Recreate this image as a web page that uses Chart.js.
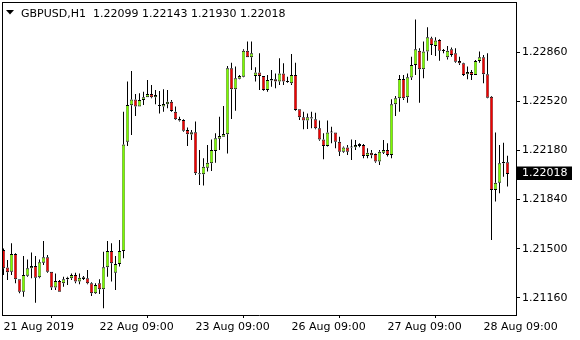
<!DOCTYPE html>
<html><head><meta charset="utf-8">
<script src="https://cdn.jsdelivr.net/npm/chart.js@4.4.0/dist/chart.umd.min.js"></script>
<style>html,body{margin:0;padding:0;background:#fff;}canvas{display:block}</style>
</head><body>
<canvas id="c" width="580" height="340"></canvas>
<script>
const symbolTitle = 'GBPUSD,H1';
const opens = [1.21491,1.21369,1.21341,1.21463,1.21288,1.21202,1.21313,1.21364,1.21380,1.21302,
1.21403,1.21440,1.21341,1.21232,1.21276,1.21260,1.21288,1.21295,1.21318,1.21272,
1.21290,1.21295,1.21260,1.21191,1.21260,1.21219,1.21371,1.21484,1.21334,1.21394,
1.21484,1.22241,1.22493,1.22534,1.22484,1.22530,1.22548,1.22571,1.22548,1.22488,
1.22484,1.22500,1.22518,1.22449,1.22398,1.22391,1.22322,1.22290,1.22306,1.22022,
1.22015,1.22061,1.22091,1.22177,1.22262,1.22276,1.22292,1.22749,1.22604,1.22677,
1.22691,1.22871,1.22825,1.22696,1.22721,1.22696,1.22599,1.22664,1.22673,1.22657,
1.22714,1.22657,1.22645,1.22703,1.22465,1.22410,1.22387,1.22410,1.22396,1.22334,
1.22257,1.22211,1.22304,1.22304,1.22241,1.22172,1.22200,1.22200,1.22202,1.22211,
1.22218,1.22142,1.22165,1.22156,1.22103,1.22165,1.22184,1.22149,1.22500,1.22541,
1.22675,1.22548,1.22685,1.22772,1.22871,1.22742,1.22865,1.22957,1.22904,1.22945,
1.22874,1.22825,1.22881,1.22853,1.22800,1.22784,1.22708,1.22724,1.22703,1.22800,
1.22825,1.22708,1.22553,1.21907,1.21957,1.22091,1.22099];
const highs = [1.21502,1.21422,1.21537,1.21468,1.21288,1.21449,1.21426,1.21473,1.21449,1.21426,
1.21553,1.21456,1.21341,1.21329,1.21283,1.21306,1.21306,1.21329,1.21334,1.21329,
1.21311,1.21352,1.21267,1.21260,1.21288,1.21479,1.21553,1.21537,1.21449,1.21560,
1.22449,1.22657,1.22731,1.22571,1.22576,1.22587,1.22668,1.22634,1.22599,1.22592,
1.22604,1.22599,1.22530,1.22484,1.22414,1.22396,1.22340,1.22322,1.22380,1.22184,
1.22126,1.22218,1.22257,1.22299,1.22414,1.22488,1.22765,1.22788,1.22761,1.22703,
1.22881,1.22934,1.22934,1.22756,1.22853,1.22696,1.22703,1.22738,1.22714,1.22818,
1.22784,1.22691,1.22848,1.22788,1.22465,1.22449,1.22437,1.22449,1.22442,1.22387,
1.22299,1.22387,1.22345,1.22304,1.22276,1.22207,1.22218,1.22257,1.22253,1.22230,
1.22225,1.22195,1.22184,1.22160,1.22184,1.22253,1.22230,1.22535,1.22558,1.22703,
1.22703,1.22714,1.22830,1.23088,1.22888,1.22934,1.23033,1.22968,1.22964,1.22950,
1.22883,1.22904,1.22894,1.22888,1.22830,1.22788,1.22761,1.22738,1.22807,1.22865,
1.22841,1.22853,1.22558,1.22304,1.22218,1.22234,1.22143];
const lows = [1.21318,1.21283,1.21318,1.21260,1.21191,1.21168,1.21306,1.21295,1.21126,1.21295,
1.21387,1.21334,1.21214,1.21214,1.21202,1.21237,1.21249,1.21283,1.21260,1.21253,
1.21283,1.21253,1.21172,1.21186,1.21186,1.21087,1.21306,1.21272,1.21214,1.21376,
1.21433,1.22211,1.22287,1.22419,1.22484,1.22495,1.22548,1.22541,1.22500,1.22437,
1.22449,1.22472,1.22449,1.22391,1.22380,1.22310,1.22211,1.22253,1.22010,1.21941,
1.21937,1.22034,1.22038,1.22096,1.22184,1.22276,1.22160,1.22398,1.22456,1.22673,
1.22687,1.22825,1.22738,1.22657,1.22599,1.22594,1.22587,1.22622,1.22611,1.22634,
1.22634,1.22650,1.22634,1.22456,1.22391,1.22327,1.22329,1.22334,1.22327,1.22248,
1.22119,1.22207,1.22230,1.22195,1.22142,1.22165,1.22149,1.22114,1.22184,1.22202,
1.22126,1.22126,1.22126,1.22096,1.22080,1.22156,1.22138,1.22126,1.22419,1.22449,
1.22530,1.22511,1.22668,1.22703,1.22511,1.22680,1.22802,1.22841,1.22834,1.22802,
1.22853,1.22811,1.22830,1.22788,1.22772,1.22696,1.22673,1.22668,1.22703,1.22788,
1.22645,1.22541,1.21560,1.21826,1.21884,1.21999,1.21930];
const closes = [1.21364,1.21336,1.21463,1.21288,1.21202,1.21318,1.21364,1.21380,1.21299,1.21406,
1.21440,1.21341,1.21232,1.21276,1.21202,1.21288,1.21299,1.21318,1.21272,1.21299,
1.21302,1.21260,1.21191,1.21249,1.21219,1.21371,1.21484,1.21399,1.21394,1.21484,
1.22222,1.22495,1.22534,1.22484,1.22530,1.22548,1.22571,1.22548,1.22564,1.22488,
1.22502,1.22518,1.22454,1.22396,1.22387,1.22317,1.22292,1.22306,1.22022,1.22015,
1.22068,1.22096,1.22184,1.22264,1.22281,1.22294,1.22749,1.22604,1.22680,1.22696,
1.22871,1.22825,1.22853,1.22721,1.22696,1.22599,1.22668,1.22675,1.22657,1.22714,
1.22657,1.22654,1.22703,1.22461,1.22410,1.22387,1.22410,1.22401,1.22334,1.22257,
1.22211,1.22304,1.22308,1.22241,1.22172,1.22200,1.22172,1.22204,1.22218,1.22225,
1.22142,1.22165,1.22147,1.22103,1.22172,1.22184,1.22149,1.22500,1.22541,1.22675,
1.22541,1.22687,1.22772,1.22881,1.22742,1.22865,1.22964,1.22911,1.22941,1.22871,
1.22869,1.22871,1.22841,1.22795,1.22784,1.22703,1.22724,1.22703,1.22800,1.22825,
1.22708,1.22546,1.21907,1.21957,1.22091,1.22100,1.22018];
const xTickIndex = [0, 24, 48, 72, 96, 120];
const xTickLabels = ['21 Aug 2019', '22 Aug 09:00', '23 Aug 09:00', '26 Aug 09:00', '27 Aug 09:00', '28 Aug 09:00'];
const yTickValues = [1.21160, 1.21500, 1.21840, 1.22180, 1.22520, 1.22860];

const UP = '#7CFC00', DOWN = '#F00000';
const FONT = 'DejaVu Sans';
const last = closes.length - 1;

const bodies = opens.map((o, i) => ({x: i, y: [o, closes[i]]}));
const upperWicks = highs.map((h, i) => ({x: i, y: [Math.max(opens[i], closes[i]), h]}));
const lowerWicks = lows.map((l, i) => ({x: i, y: [l, Math.min(opens[i], closes[i])]}));
const bodyColors = opens.map((o, i) => closes[i] >= o ? UP : DOWN);

const decor = {
  id: 'decor',
  afterDraw(chart) {
    const ctx = chart.ctx, a = chart.chartArea, ys = chart.scales.y;
    ctx.save();
    ctx.fillStyle = '#000';
    ctx.fillRect(a.left, a.top, 1, a.bottom - a.top);
    ctx.fillRect(a.left, a.top, a.right - a.left + 1, 1);
    ctx.beginPath();
    ctx.moveTo(6, 10); ctx.lineTo(14, 10); ctx.lineTo(10, 14.5); ctx.closePath(); ctx.fill();
    ctx.font = '11px "' + FONT + '"';
    ctx.textBaseline = 'alphabetic';
    ctx.textAlign = 'left';
    const vals = [opens[last], highs[last], lows[last], closes[last]].map(v => v.toFixed(5));
    ctx.fillText(symbolTitle + '  ' + vals.join(' '), 21, 17);
    const py = Math.round(ys.getPixelForValue(closes[last])) - 1;
    ctx.fillRect(517, py - 6.5, 55, 13.5);
    ctx.fillStyle = '#fff';
    ctx.textBaseline = 'middle';
    ctx.fillText(closes[last].toFixed(5), 522, py + 0.5);
    ctx.restore();
  }
};

const wickStyle = {backgroundColor: '#000', borderWidth: 0, barThickness: 1, grouped: false, inflateAmount: 0};

new Chart(document.getElementById('c'), {
  type: 'bar',
  data: {
    datasets: [
      {data: bodies, backgroundColor: bodyColors, borderColor: '#000',
       borderWidth: {top: 1, bottom: 1, left: 0.5, right: 0.5}, order: 0,
       borderSkipped: false, barThickness: 3, grouped: false, minBarLength: 1, inflateAmount: 0},
      Object.assign({data: upperWicks, order: 1}, wickStyle),
      Object.assign({data: lowerWicks, order: 2}, wickStyle)
    ]
  },
  options: {
    responsive: false, animation: false, devicePixelRatio: 1,
    layout: {padding: {left: 2, top: 2, right: 0, bottom: 0}},
    plugins: {legend: {display: false}, tooltip: {enabled: false}},
    scales: {
      x: {
        type: 'linear', position: 'bottom', min: -0.375, max: 128.125, offset: false,
        afterBuildTicks: s => { s.ticks = xTickIndex.map(v => ({value: v})); },
        afterFit: s => { s.height = 25; s.paddingLeft = 0; s.paddingRight = 0; },
        ticks: {autoSkip: false, maxRotation: 0, minRotation: 0, align: 'start', padding: 3,
          color: '#000', font: {family: FONT, size: 11},
          callback: (v, i) => xTickLabels[i]},
        grid: {drawOnChartArea: false, drawTicks: true, tickLength: 3, color: '#000', lineWidth: 1},
        border: {display: true, color: '#000', width: 1}
      },
      y: {
        type: 'linear', position: 'right', min: 1.210408, max: 1.232084,
        afterBuildTicks: s => { s.ticks = yTickValues.map(v => ({value: v})); },
        afterFit: s => { s.width = 64; s.paddingTop = 0; s.paddingBottom = 0; },
        ticks: {autoSkip: false, padding: 2, color: '#000', font: {family: FONT, size: 11},
          callback: v => Number(v).toFixed(5)},
        grid: {drawOnChartArea: false, drawTicks: true, tickLength: 4, color: '#000', lineWidth: 1},
        border: {display: true, color: '#000', width: 1}
      }
    }
  },
  plugins: [decor]
});
</script>
</body></html>
